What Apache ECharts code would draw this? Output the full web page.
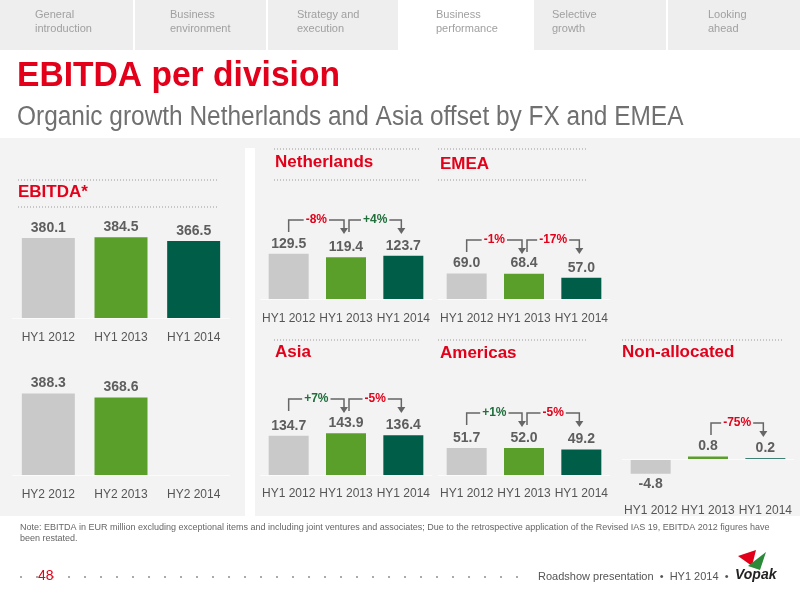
<!DOCTYPE html>
<html>
<head>
<meta charset="utf-8">
<script src="https://cdn.jsdelivr.net/npm/echarts@6/dist/echarts.min.js"></script>
<style>
  html, body { margin: 0; padding: 0; background: #fff; }
  #chart { width: 800px; height: 600px; }
</style>
</head>
<body>
<div id="chart"></div>
<script>
// data
var hy1Cats = ['HY1 2012', 'HY1 2013', 'HY1 2014'];
var hy2Cats = ['HY2 2012', 'HY2 2013', 'HY2 2014'];
var totalHy1 = [380.1, 384.5, 366.5];
var totalHy2 = [388.3, 368.6, null];
var netherlands = [129.5, 119.4, 123.7];
var emea = [69.0, 68.4, 57.0];
var asia = [134.7, 143.9, 136.4];
var americas = [51.7, 52.0, 49.2];
var nonAllocated = [-4.8, 0.8, 0.2];
var nlGrowth = ['-8%', '+4%'];
var emeaGrowth = ['-1%', '-17%'];
var asiaGrowth = ['+7%', '-5%'];
var americasGrowth = ['+1%', '-5%'];
var nonAllocGrowth = [null, '-75%'];
var navTabs = ['General\nintroduction', 'Business\nenvironment', 'Strategy and\nexecution', 'Business\nperformance', 'Selective\ngrowth', 'Looking\nahead'];

var RED = '#e2001a', GREY = '#c9c9c9', GREEN = '#5b9f2b', DARK = '#005e48';
var barColors = [GREY, GREEN, DARK];

var chart = echarts.init(document.getElementById('chart'));

// panel layout: grid box, axis range, bar width, label margin
var panels = [
  { data: totalHy1, cats: hy1Cats, left: 12, top: 220, width: 218, height: 98, min: 0, max: 466, bw: 53, lm: 14 },
  { data: totalHy2, cats: hy2Cats, left: 12, top: 380, width: 218, height: 95, min: 0, max: 452, bw: 53, lm: 14 },
  { data: netherlands, cats: hy1Cats, left: 260, top: 230, width: 172, height: 69, min: 0, max: 197, bw: 40, lm: 14, growth: nlGrowth, gy: 220 },
  { data: emea, cats: hy1Cats, left: 438, top: 230, width: 172, height: 69, min: 0, max: 186, bw: 40, lm: 14, growth: emeaGrowth, gy: 240 },
  { data: asia, cats: hy1Cats, left: 260, top: 400, width: 172, height: 75, min: 0, max: 258, bw: 40, lm: 13, growth: asiaGrowth, gy: 399 },
  { data: americas, cats: hy1Cats, left: 438, top: 400, width: 172, height: 75, min: 0, max: 144, bw: 40, lm: 13, growth: americasGrowth, gy: 413 },
  { data: nonAllocated, cats: hy1Cats, left: 622, top: 400, width: 172, height: 81, min: -7.1, max: 19, bw: 40, lm: 24, growth: nonAllocGrowth, gy: 423 }
];

var grids = [], xAxes = [], yAxes = [], series = [];
panels.forEach(function (p, i) {
  grids.push({ left: p.left, top: p.top, width: p.width, height: p.height });
  xAxes.push({
    type: 'category', gridIndex: i, data: p.cats,
    axisLine: { show: false, onZero: false }, axisTick: { show: false },
    axisLabel: { color: '#555', fontSize: 12, fontFamily: 'Liberation Sans', margin: p.lm, interval: 0 }
  });
  yAxes.push({
    type: 'value', gridIndex: i, min: p.min, max: p.max,
    axisLabel: { show: false }, axisTick: { show: false }, axisLine: { show: false }, splitLine: { show: false }
  });
  series.push({
    type: 'bar', xAxisIndex: i, yAxisIndex: i, barWidth: p.bw,
    data: p.data.map(function (v, k) {
      return v == null ? null : {
        value: v, itemStyle: { color: barColors[k] },
        label: { position: v < 0 ? 'bottom' : 'top' }
      };
    }),
    markLine: {
      silent: true, symbol: 'none', label: { show: false },
      lineStyle: { color: '#fbfbfb', type: 'solid', width: 1 },
      data: [{ yAxis: Math.max(p.min, 0) }]
    },
    label: {
      show: true, color: '#5e5e5e', fontWeight: 'bold', fontSize: 14, fontFamily: 'Liberation Sans', distance: 3,
      formatter: function (d) { return d.value.toFixed(1); }
    }
  });
});

var g = [];
// grey slide backdrop
g.push({ type: 'rect', z: -10, shape: { x: 0, y: 138, width: 800, height: 378 }, style: { fill: '#f3f3f3' } });
g.push({ type: 'rect', z: -9, shape: { x: 245, y: 148, width: 10, height: 368 }, style: { fill: '#fff' } });
// nav tabs
navTabs.forEach(function (t, i) {
  var x = [0, 135, 268, 400, 534, 668][i];
  var w = [133, 131, 130, 132, 132, 132][i];
  g.push({ type: 'rect', shape: { x: x, y: 0, width: w, height: 50 }, style: { fill: i === 3 ? '#fff' : '#eeeeee' } });
  g.push({ type: 'text', x: [35, 170, 297, 436, 552, 708][i], y: 8, style: { text: t, fill: '#a0a0a0', font: '11px Liberation Sans', lineHeight: 14 } });
});
g.push({ type: 'text', x: 17, y: 59, style: { text: 'EBITDA per division', fill: RED, font: 'bold 35px Liberation Sans' }, scaleX: 0.96 });
g.push({ type: 'text', x: 17, y: 104, style: { text: 'Organic growth Netherlands and Asia offset by FX and EMEA', fill: '#707070', font: '27px Liberation Sans' }, scaleX: 0.905 });

function dotted(x1, x2, y) {
  g.push({ type: 'line', shape: { x1: x1, y1: y, x2: x2, y2: y }, style: { stroke: '#999', lineWidth: 1, lineDash: [1, 2] } });
}
function title(txt, x, y) {
  g.push({ type: 'text', x: x, y: y, style: { text: txt, fill: RED, font: 'bold 17px Liberation Sans' } });
}
dotted(18, 218, 180); dotted(18, 218, 207); title('EBITDA*', 18, 184);
dotted(274, 420, 149); dotted(274, 420, 180); title('Netherlands', 275, 154);
dotted(438, 588, 149); dotted(438, 588, 180); title('EMEA', 440, 156);
dotted(274, 420, 340); title('Asia', 275, 344);
dotted(438, 588, 340); title('Americas', 440, 345);
dotted(622, 782, 340); title('Non-allocated', 622, 344);

g.push({ type: 'text', x: 20, y: 522, style: {
  text: 'Note: EBITDA in EUR million excluding exceptional items and including joint ventures and associates; Due to the retrospective application of the Revised IAS 19, EBITDA 2012 figures have\nbeen restated.',
  fill: '#666', font: '9px Liberation Sans', lineHeight: 11 } });
g.push({ type: 'line', shape: { x1: 20, y1: 577, x2: 530, y2: 577 }, style: { stroke: '#aaa', lineWidth: 2, lineDash: [2, 14] } });
g.push({ type: 'text', x: 38, y: 569, style: { text: '48', fill: RED, font: '14px Liberation Sans' } });
g.push({ type: 'text', x: 538, y: 571, style: { text: 'Roadshow presentation  •  HY1 2014  •', fill: '#555', font: '11px Liberation Sans' } });
g.push({ type: 'polygon', shape: { points: [[738, 556], [756, 550], [752, 566]] }, style: { fill: RED } });
g.push({ type: 'polygon', shape: { points: [[748, 566], [766, 552], [760, 570]] }, style: { fill: '#2a8a3a' } });
g.push({ type: 'text', x: 735, y: 568, style: { text: 'Vopak', fill: '#222', font: 'bold italic 14px Liberation Sans' } });

chart.setOption({ animation: false, grid: grids, xAxis: xAxes, yAxis: yAxes, series: series });

// growth brackets placed from the bars' own pixel positions
panels.forEach(function (p, i) {
  if (!p.growth) return;
  p.growth.forEach(function (txt, k) {
    if (!txt) return;
    var xa = chart.convertToPixel({ xAxisIndex: i }, p.cats[k]) + (k === 0 ? 0 : 3);
    var xb = chart.convertToPixel({ xAxisIndex: i }, p.cats[k + 1]) - 2;
    var y = p.gy;
    var col = txt.charAt(0) === '+' ? '#1f6e3c' : RED;
    g.push({ type: 'polyline', shape: { points: [[xa, y + 12], [xa, y], [xb, y], [xb, y + 8]] }, style: { stroke: '#666', lineWidth: 1.5, fill: null } });
    g.push({ type: 'polygon', shape: { points: [[xb - 4, y + 8], [xb + 4, y + 8], [xb, y + 14]] }, style: { fill: '#666' } });
    g.push({ type: 'text', x: (xa + xb) / 2, y: y, style: { text: txt, fill: col, font: 'bold 12px Liberation Sans', align: 'center', verticalAlign: 'middle', backgroundColor: '#f3f3f3', padding: [0, 2] } });
  });
});

chart.setOption({ graphic: g });
</script>
</body>
</html>
